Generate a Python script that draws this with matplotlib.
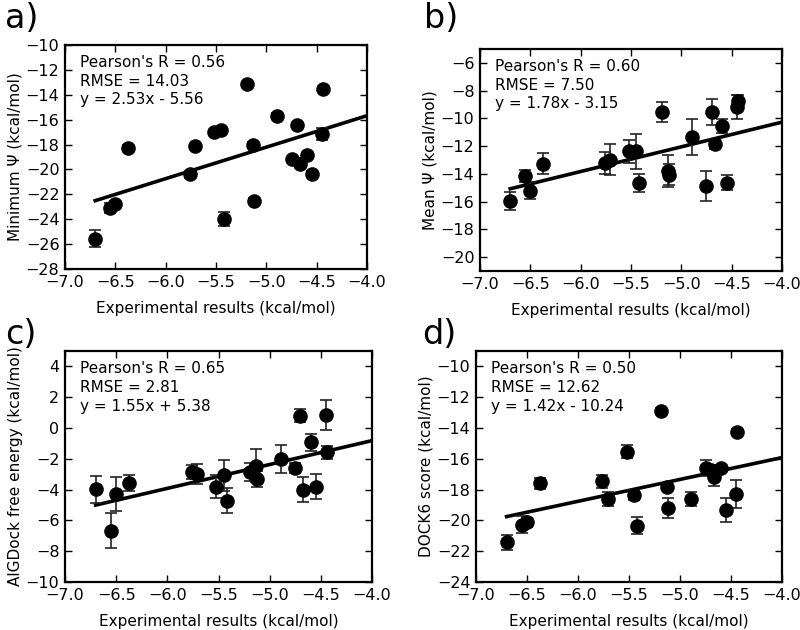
import matplotlib
matplotlib.use("Agg")
import matplotlib.pyplot as plt
import numpy as np

plt.rcParams['font.family'] = ['DejaVu Sans']

exp_x = [-6.70, -6.55, -6.50, -6.37, -5.76, -5.71, -5.52, -5.45, -5.42, -5.19,
         -5.13, -5.12, -4.89, -4.75, -4.70, -4.67, -4.60, -4.55, -4.45, -4.44]

min_psi = [-25.55, -23.12, -22.8, -18.27, -20.4, -18.13, -17.0, -16.85, -23.95, -13.15,
           -18.0, -22.53, -15.68, -19.2, -16.45, -19.55, -18.85, -20.35, -17.15, -13.55]
min_psi_err = [0.67, 0.4, 0.3, 0.2, 0.3, 0.2, 0.2, 0.2, 0.57, 0.2,
               0.2, 0.2, 0.2, 0.2, 0.2, 0.2, 0.2, 0.2, 0.45, 0.2]

mean_psi = [-15.96, -14.17, -15.2, -13.26, -13.21, -12.97, -12.37, -12.37, -14.65, -9.54,
            -13.8, -14.05, -11.34, -14.89, -9.54, -11.87, -10.55, -14.65, -9.19, -8.75]
mean_psi_err = [0.62, 0.42, 0.62, 0.78, 0.78, 1.09, 0.84, 1.25, 0.67, 0.72,
                1.14, 0.78, 1.3, 1.09, 0.92, 0.35, 0.5, 0.54, 0.87, 0.4]

algdock = [-3.97, -6.67, -4.29, -3.58, -2.84, -2.99, -3.81, -3.06, -4.72, -2.84,
           -2.45, -3.3, -2.02, -2.6, 0.8, -4.0, -0.94, -3.81, 0.86, -1.58]
algdock_err = [0.87, 1.15, 1.08, 0.5, 0.45, 0.66, 0.76, 1.0, 0.8, 0.57,
               1.08, 0.54, 0.92, 0.3, 0.43, 0.79, 0.55, 0.83, 0.97, 0.43]

dock6 = [-21.43, -20.28, -20.13, -17.6, -17.47, -18.61, -15.54, -18.35, -20.35, -12.88,
         -17.81, -19.22, -18.61, -16.6, -16.7, -17.16, -16.6, -19.33, -18.29, -14.24]
dock6_err = [0.49, 0.56, 0.3, 0.38, 0.43, 0.43, 0.43, 0.32, 0.54, 0.2,
             0.2, 0.65, 0.43, 0.49, 0.2, 0.58, 0.2, 0.78, 0.89, 0.2]

panels = [
    dict(label="a)", y=min_psi, err=min_psi_err, ylabel="Minimum Ψ (kcal/mol)",
         ylim=(-28, -10), yticks=np.arange(-28, -9, 2), slope=2.53, icpt=-5.56,
         stats=("0.56", "14.03", "y = 2.53x - 5.56"),
         pos=[65, 45, 367, 269], lab=(5, 2)),
    dict(label="b)", y=mean_psi, err=mean_psi_err, ylabel="Mean Ψ (kcal/mol)",
         ylim=(-21, -5), yticks=np.arange(-20, -5, 2), slope=1.78, icpt=-3.15,
         stats=("0.60", "7.50", "y = 1.78x - 3.15"),
         pos=[480, 49, 782, 271], lab=(424, 2)),
    dict(label="c)", y=algdock, err=algdock_err, ylabel="AlGDock free energy (kcal/mol)",
         ylim=(-10, 5), yticks=np.arange(-10, 5, 2), slope=1.55, icpt=5.38,
         stats=("0.65", "2.81", "y = 1.55x + 5.38"),
         pos=[65, 351, 372, 582], lab=(5, 318)),
    dict(label="d)", y=dock6, err=dock6_err, ylabel="DOCK6 score (kcal/mol)",
         ylim=(-24, -9), yticks=np.arange(-24, -9, 2), slope=1.42, icpt=-10.24,
         stats=("0.50", "12.62", "y = 1.42x - 10.24"),
         pos=[476, 351, 782, 582], lab=(422, 318)),
]

W, H = 800, 630
fig = plt.figure(figsize=(W / 100, H / 100), dpi=100)
fs = 11

for p in panels:
    l, t, r, b = p["pos"]
    ax = fig.add_axes([l / W, 1 - b / H, (r - l) / W, (b - t) / H])
    ax.errorbar(exp_x, p["y"], yerr=p["err"], fmt='o', color='black',
                markersize=9.5, ecolor='#222222', elinewidth=1.2, capsize=4,
                capthick=1.2, zorder=3)
    xs = np.array([min(exp_x), -4.0])
    ax.plot(xs, p["slope"] * xs + p["icpt"], color='black', lw=2.6, zorder=2)
    ax.set_xlim(-7.0, -4.0)
    ax.set_ylim(*p["ylim"])
    ax.set_xticks(np.arange(-7.0, -3.99, 0.5))
    ax.set_yticks(p["yticks"])
    ax.tick_params(direction='in', top=True, right=True, length=5, width=1,
                   labelsize=11.5, pad=4)
    for s in ax.spines.values():
        s.set_linewidth(1.6)
    ax.set_xlabel("Experimental results (kcal/mol)", fontsize=fs, labelpad=8)
    ax.set_ylabel(p["ylabel"], fontsize=fs, labelpad=2)
    r_, rmse, eq = p["stats"]
    ax.text(0.05, 0.955, "Pearson's R = %s\nRMSE = %s\n%s" % (r_, rmse, eq),
            transform=ax.transAxes, va='top', ha='left', fontsize=fs,
            linespacing=1.3)
    fig.text(p["lab"][0] / W, 1 - p["lab"][1] / H, p["label"], fontsize=24,
             va='top', ha='left')

fig.savefig("out.png", dpi=100)
